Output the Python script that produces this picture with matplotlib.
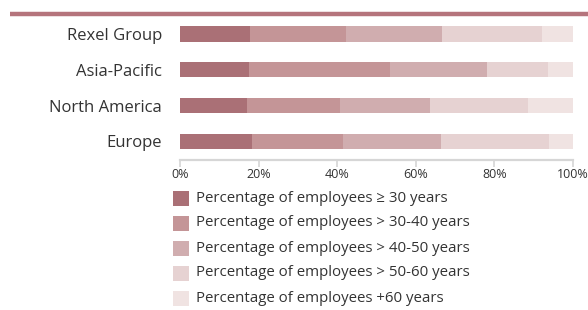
"""
Rexel employees age distribution by region, stacked horizontal bars.
"""
import matplotlib
matplotlib.use('Agg')
import matplotlib.pyplot as plt
from matplotlib.patches import Rectangle

plt.rcParams['font.family'] = ['Open Sans', 'DejaVu Sans']

regions = ['Europe', 'North America', 'Asia-Pacific', 'Rexel Group']
series_labels = [
    'Percentage of employees \u2265 30 years',
    'Percentage of employees > 30-40 years',
    'Percentage of employees > 40-50 years',
    'Percentage of employees > 50-60 years',
    'Percentage of employees +60 years',
]
# one list per age band, same order as regions
under_30 = [18.3, 17.1, 17.6, 17.8]
age_30_40 = [23.2, 23.6, 35.9, 24.5]
age_40_50 = [25.0, 23.0, 24.7, 24.4]
age_50_60 = [27.5, 24.9, 15.5, 25.5]
over_60 = [6.0, 11.4, 6.3, 7.8]
series = [under_30, age_30_40, age_40_50, age_50_60, over_60]
colors = ['#aa7076', '#c49597', '#d0adaf', '#e6d2d2', '#f0e3e2']
xticks = [0, 20, 40, 60, 80, 100]

W, H = 588, 310
fig = plt.figure(figsize=(W / 100, H / 100), dpi=100)

# top accent rule
fig.add_artist(plt.Line2D([10 / W, 1.0], [1 - 14 / H, 1 - 14 / H],
                          color='#b5747c', lw=3.2, solid_capstyle='butt'))

ax = fig.add_axes([180 / W, 1 - 160 / H, 393 / W, 143.9 / H])
left = [0] * len(regions)
for vals, col, lab in zip(series, colors, series_labels):
    ax.barh(range(len(regions)), vals, left=left, height=0.42, color=col,
            label=lab, linewidth=0)
    left = [a + b for a, b in zip(left, vals)]

ax.set_xlim(0, 100)
ax.set_ylim(-0.517, 3.5)
ax.set_yticks(range(len(regions)))
ax.set_yticklabels(regions, fontsize=12, color='#333333')
ax.tick_params(axis='y', length=0, pad=13)
ax.set_xticks(xticks)
ax.set_xticklabels([f'{t}%' for t in xticks], fontsize=9, color='#333333')
ax.tick_params(axis='x', length=5, width=1.2, color='#d6d6d6', pad=0.5)
for s in ['top', 'right', 'left']:
    ax.spines[s].set_visible(False)
ax.spines['bottom'].set_color('#d6d6d6')
ax.spines['bottom'].set_linewidth(1.6)

# legend drawn by hand to match the source spacing
for i, (col, lab) in enumerate(zip(colors, series_labels)):
    yc = 198 + 25 * i
    fig.add_artist(Rectangle((173 / W, 1 - (yc + 8) / H), 16 / W, 15 / H,
                             color=col, transform=fig.transFigure, lw=0))
    fig.text(196 / W, 1 - yc / H, lab, fontsize=10.8, color='#333333',
             va='center', ha='left')

fig.savefig('out.png', dpi=100)
